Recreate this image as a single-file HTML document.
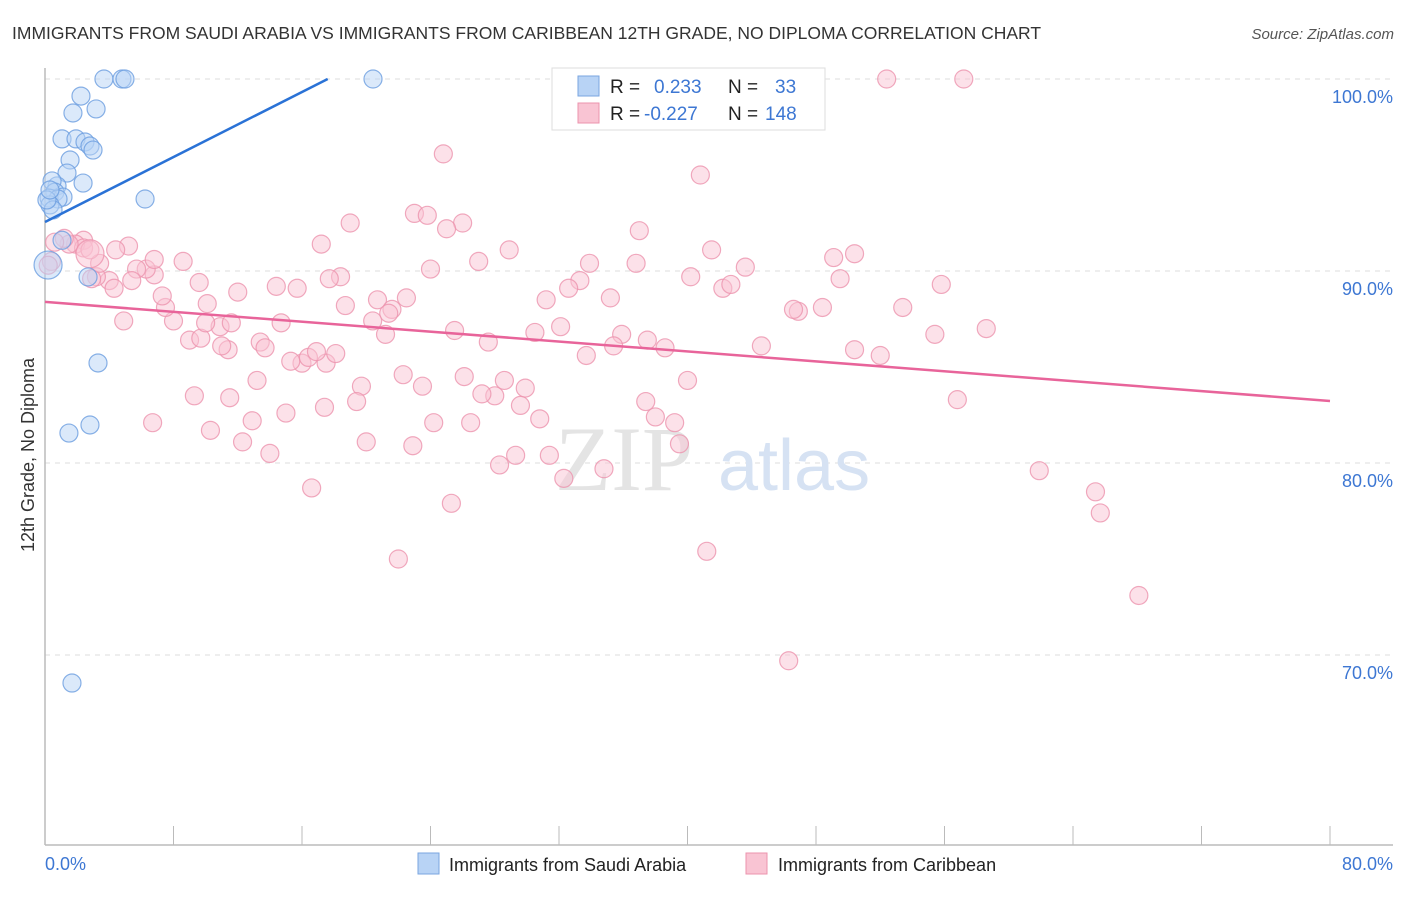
<!DOCTYPE html>
<html><head><meta charset="utf-8">
<style>
html,body{margin:0;padding:0;background:#fff;}
body{width:1406px;height:892px;overflow:hidden;font-family:"Liberation Sans",sans-serif;}
</style></head>
<body>
<svg id="chart" width="1406" height="892" xmlns="http://www.w3.org/2000/svg" font-family="Liberation Sans, sans-serif">
<text x="12" y="39" font-size="17.5" fill="#333">IMMIGRANTS FROM SAUDI ARABIA VS IMMIGRANTS FROM CARIBBEAN 12TH GRADE, NO DIPLOMA CORRELATION CHART</text>
<text x="1394" y="39" font-size="15" font-style="italic" fill="#555" text-anchor="end">Source: ZipAtlas.com</text>
<g id="grid"></g>
<g>
<text x="555" y="490" font-size="92" font-family="Liberation Serif, serif" fill="#e4e4e4">ZIP</text>
<text x="718" y="490" font-size="72" fill="#d6e2f3">atlas</text>
</g>
<g id="axes"></g>
<g id="pink"></g>
<g id="blue"></g>
<g id="lines"></g>
<text transform="translate(34,455) rotate(-90)" font-size="18" fill="#333" text-anchor="middle">12th Grade, No Diploma</text>
<g>
<rect x="552" y="68" width="273" height="62" fill="#fff" stroke="#ddd"/>
<rect x="578" y="76" width="21" height="20" fill="#b8d3f5" stroke="#7aa6e0"/>
<rect x="578" y="103" width="21" height="20" fill="#f9c4d3" stroke="#ec93ae"/>
<text x="610" y="93" font-size="19" fill="#222">R =</text>
<text x="654" y="93" font-size="19" fill="#3d77d3">0.233</text>
<text x="728" y="93" font-size="19" fill="#222">N =</text>
<text x="775" y="93" font-size="19" fill="#3d77d3">33</text>
<text x="610" y="120" font-size="19" fill="#222">R =</text>
<text x="644" y="120" font-size="19" fill="#3d77d3">-0.227</text>
<text x="728" y="120" font-size="19" fill="#222">N =</text>
<text x="765" y="120" font-size="19" fill="#3d77d3">148</text>
</g>
<g>
<rect x="418" y="853" width="21" height="21" fill="#b8d3f5" stroke="#7aa6e0"/>
<text x="449" y="871" font-size="18" fill="#222">Immigrants from Saudi Arabia</text>
<rect x="746" y="853" width="21" height="21" fill="#f9c4d3" stroke="#ec93ae"/>
<text x="778" y="871" font-size="18" fill="#222">Immigrants from Caribbean</text>
</g>
</svg>
<script>
const xTicks=[0,8,16,24,32,40,48,56,64,72,80];
const yTicks=[70,80,90,100];
const xTickLabels=["0.0%","80.0%"];
const yTickLabels=["70.0%","80.0%","90.0%","100.0%"];
const blueX=[3.67,4.79,4.98,20.42,2.24,1.74,3.18,1.06,1.93,2.49,2.80,2.99,1.56,1.37,2.37,0.75,0.44,0.62,0.25,1.12,0.81,0.31,0.50,6.23,0.19,2.68,3.30,1.49,2.80,1.68,0.12,0.31,1.06];
const blueY=[100,100,100,100,99.11,98.23,98.44,96.88,96.88,96.72,96.51,96.30,95.78,95.10,94.58,94.43,94.69,94.11,93.80,93.85,93.75,93.44,93.18,93.75,90.31,89.69,85.21,81.56,81.98,68.54,93.70,94.22,91.6];
const blueBig=[24];
const pinkX=[52.4,57.2,24.8,40.8,23.0,23.8,26.0,19.0,25.0,37.0,17.2,28.9,41.5,50.4,49.1,27.0,33.9,36.8,43.6,24.0,40.2,49.5,33.3,18.4,17.7,42.2,42.7,55.8,32.6,35.2,31.2,22.5,20.7,21.6,18.7,21.4,20.4,21.2,25.5,27.6,30.5,32.1,35.9,33.7,35.4,37.5,38.6,44.6,46.9,46.6,48.4,50.4,52.0,53.4,55.4,58.6,56.8,61.9,65.4,65.7,68.1,46.3,41.2,22.0,25.3,16.6,14.0,12.3,10.3,6.7,11.5,12.9,15.0,17.4,20.0,22.9,24.2,26.5,28.3,29.3,31.4,32.3,34.8,39.5,39.2,38.0,37.4,40.0,30.8,29.6,28.0,27.2,26.1,28.6,29.9,22.3,19.7,19.4,23.5,17.5,16.0,15.3,16.4,16.9,18.1,13.2,11.4,9.0,9.7,13.4,13.7,14.7,10.9,10.0,11.6,11.0,8.0,7.5,10.1,7.3,4.9,9.6,12.0,14.4,15.7,6.8,6.3,5.7,8.6,6.8,5.2,4.4,4.0,4.3,5.4,3.2,2.9,3.4,2.4,1.9,2.4,2.8,1.5,1.2,0.6,0.4,9.3,2.8,0.2];
const pinkY=[100,100,96.1,95.0,93.0,92.9,92.5,92.5,92.2,92.1,91.4,91.1,91.1,90.9,90.7,90.5,90.4,90.4,90.2,90.1,89.7,89.6,89.5,89.7,89.6,89.1,89.3,89.3,89.1,88.6,88.5,88.6,88.5,88.0,88.2,87.8,87.4,86.7,86.9,86.3,86.8,87.1,86.7,85.6,86.1,86.4,86.0,86.1,87.9,88.0,88.1,85.9,85.6,88.1,86.7,87.0,83.3,79.6,78.5,77.4,73.1,69.7,75.4,75.0,77.9,78.7,80.5,81.1,81.7,82.1,83.4,82.2,82.6,82.9,81.1,80.9,82.1,82.1,79.9,80.4,80.4,79.2,79.7,81.0,82.1,82.4,83.2,84.3,82.3,83.0,83.5,83.6,84.5,84.3,83.9,84.6,84.0,83.2,84.0,85.2,85.2,85.3,85.5,85.8,85.7,84.3,85.9,86.4,86.5,86.3,86.0,87.3,87.1,87.3,87.3,86.1,87.4,88.1,88.3,88.7,87.4,89.4,88.9,89.2,89.1,89.8,90.1,90.1,90.5,90.6,91.3,91.1,89.5,89.1,89.5,89.7,89.6,90.4,91.6,91.4,91.2,91.1,91.4,91.7,91.5,90.5,83.5,90.9,90.3];
const pinkBig=[147];
const blueTrend=[[0,92.55],[17.6,100]];
const pinkTrend=[[0,88.39],[80,83.23]];

const NS="http://www.w3.org/2000/svg";
const X0=45,X1=1330,Y100=79,PX_PER=19.2;
function sx(v){return X0+(v/80)*(X1-X0);}
function sy(v){return Y100+(100-v)*PX_PER;}
function mk(tag,attrs,parent){const e=document.createElementNS(NS,tag);for(const k in attrs)e.setAttribute(k,attrs[k]);parent.appendChild(e);return e;}
const grid=document.getElementById('grid'),axes=document.getElementById('axes');
yTicks.forEach((t,i)=>{
  const l=mk('line',{x1:X0,x2:1393,y1:sy(t),y2:sy(t),stroke:'#ddd','stroke-dasharray':'5,5'},grid);
  
  
  const tx=mk('text',{x:1393,y:sy(t)+24,'font-size':18,fill:'#3d77d3','text-anchor':'end'},axes);
  tx.textContent=yTickLabels[i];
  
  
});
const ax=mk('line',{x1:X0,x2:1393,y1:845,y2:845,stroke:'#bbb','stroke-width':1.5},axes);


const ay=mk('line',{x1:X0,x2:X0,y1:68,y2:845,stroke:'#bbb','stroke-width':1.5},axes);


xTicks.forEach(t=>{
  const l=mk('line',{x1:sx(t),x2:sx(t),y1:826,y2:845,stroke:'#bbb'},axes);
  
  
});
const xl0=mk('text',{x:45,y:870,'font-size':18,fill:'#3d77d3'},axes);xl0.textContent=xTickLabels[0];


const xl1=mk('text',{x:1393,y:870,'font-size':18,fill:'#3d77d3','text-anchor':'end'},axes);xl1.textContent=xTickLabels[1];


function pts(xs,ys,big,g,fill,stroke,name){
  xs.forEach((x,i)=>{
    const c=mk('circle',{cx:sx(x),cy:sy(ys[i]),r:big.includes(i)?14:9,fill:fill,'fill-opacity':0.5,stroke:stroke,'stroke-opacity':0.8,'stroke-width':1.2},g);
    
    
  });
}
pts(pinkX,pinkY,pinkBig,document.getElementById('pink'),'#f9c4d3','#ec93ae','caribbean-point');
pts(blueX,blueY,blueBig,document.getElementById('blue'),'#b8d3f5','#6c9ee0','saudi-arabia-point');
const lg=document.getElementById('lines');
const bl=mk('line',{x1:sx(blueTrend[0][0]),y1:sy(blueTrend[0][1]),x2:sx(blueTrend[1][0]),y2:sy(blueTrend[1][1]),stroke:'#2a72d6','stroke-width':2.5},lg);


const pl=mk('line',{x1:sx(pinkTrend[0][0]),y1:sy(pinkTrend[0][1]),x2:sx(pinkTrend[1][0]),y2:sy(pinkTrend[1][1]),stroke:'#e8649a','stroke-width':2.5},lg);


</script>
</body></html>
